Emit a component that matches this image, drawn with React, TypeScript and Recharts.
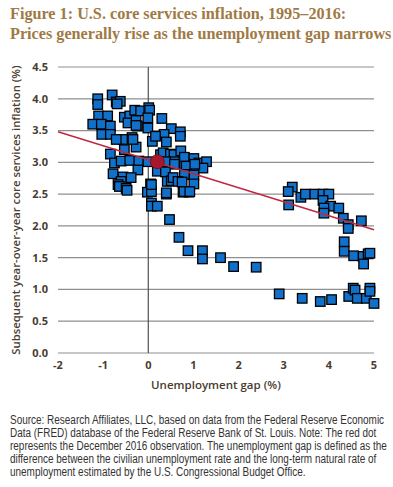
import React from 'react';
import { ScatterChart, Scatter, XAxis, YAxis, CartesianGrid, ReferenceLine } from 'recharts';

// unemployment gap (%) for each monthly observation
const gap = [
  -1.12, -1.12, -0.8, -0.71, -0.62, -0.69, -1.1, -0.9, -1.23, -1.04, -0.84, -1.03, -0.84,
  -0.53, -0.41, -0.45, -0.27, -0.3, -0.17, 0.01, 0.03, -0.01, -0.24, -0.01, -0.27,
  -0.56, -0.36, -0.71, -0.53, -0.27, -0.34, 0.09,
  -0.84, -0.75, -0.6, -0.41, -0.21, -0.01, -0.23,
  -0.78, -0.56, -0.38, -0.6, -0.67, -0.64, -0.49, -0.47,
  0.05, -0.02, 0.07, 0.07, 0.2,
  0.3, 0.51, 0.71, 0.71, 0.35, 0.16, 0.4,
  0.27, 0.33, 0.49, 0.57, 0.72, 0.8, 1.01, 1.12, 1.29, 1.21, 1.01, 0.8, 0.8, 0.58, 0.38, 0.58, 0.84, 1.03, 1.01,
  0.2, 0.38, 0.8, 0.42, 0.51, 0.55, 0.66, 0.75, 1.01,
  0.9, 0.77, 0.4, 0.79, 0.92, 0.07, 0.07, 0.4,
  0.47, 0.68, 0.88, 1.2, 1.2, 1.6, 1.89, 2.39,
  2.9, 3.41, 3.81, 4.06, 4.44, 4.54, 4.58, 4.63, 4.83, 4.91, 4.91, 5.0,
  3.19, 3.1, 3.11, 3.38, 3.48, 3.69, 3.87, 4.0, 3.87, 4.04, 3.89, 3.89, 4.22, 4.32, 4.43, 4.43, 4.72,
  4.34, 4.34, 4.55, 4.76, 4.87, 4.77, 4.91,
];

// subsequent year-over-year core services inflation (%)
const inflation = [
  4.0, 3.91, 4.06, 3.95, 3.96, 3.92, 3.73, 3.73, 3.6, 3.6, 3.57, 3.44, 3.44,
  3.71, 3.73, 3.62, 3.66, 3.82, 3.81, 3.86, 3.82, 3.7, 3.57, 3.54, 3.58,
  3.36, 3.39, 3.36, 3.2, 3.24, 3.36, 3.33,
  3.13, 2.99, 3.02, 3.03, 3.02, 3.01, 2.88,
  2.82, 2.77, 2.76, 2.7, 2.65, 2.62, 2.59, 2.56,
  2.66, 2.53, 2.36, 2.31, 2.31,
  3.69, 3.53, 3.48, 3.41, 3.44, 3.41, 3.32,
  3.12, 3.15, 3.13, 3.12, 3.18, 3.08, 3.06, 2.99, 3.01, 2.91, 2.86, 2.89, 2.94, 3.01, 3.01, 2.97, 2.94, 2.97, 2.8,
  2.86, 2.85, 2.81, 2.7, 2.71, 2.76, 2.7, 2.69, 2.66,
  2.53, 2.53, 2.5, 2.54, 2.54, 2.54, 2.65, 2.52,
  2.1, 1.82, 1.61, 1.61, 1.48, 1.5, 1.36, 1.35,
  0.93, 0.86, 0.81, 0.84, 0.89, 1.02, 0.99, 0.86, 0.86, 1.02, 0.97, 0.78,
  2.61, 2.54, 2.33, 2.45, 2.5, 2.5, 2.5, 2.5, 2.4, 2.31, 2.28, 2.2, 2.28, 2.12, 2.02, 1.96, 2.08,
  1.75, 1.6, 1.53, 1.52, 1.56, 1.4, 1.57,
];

// December 2016 observation
const latest = [{ x: 0.2, y: 3.01 }];

// fitted trend line end points
const trendX = [-2, 5];
const trendY = [3.48, 1.94];

const xTicks = [-2, -1, 0, 1, 2, 3, 4, 5];
const yTicks = [0, 0.5, 1, 1.5, 2, 2.5, 3, 3.5, 4, 4.5];

const sourceLines = [
  'Source: Research Affiliates, LLC, based on data from the Federal Reserve Economic',
  'Data (FRED) database of the Federal Reserve Bank of St. Louis. Note: The red dot',
  'represents the December 2016 observation. The unemployment gap is defined as the',
  'difference between the civilian unemployment rate and the long-term natural rate of',
  'unemployment estimated by the U.S. Congressional Budget Office.',
];

const points = gap.map((x, i) => ({ x, y: inflation[i] }));
const trend = trendX.map((x, i) => ({ x, y: trendY[i] }));

const Square = (props: any) => {
  const { cx, cy } = props;
  const s = 9.5;
  return <rect x={cx - s / 2} y={cy - s / 2} width={s} height={s} fill="#1170c9" stroke="#000" strokeWidth={1.3} />;
};

const Dot = (props: any) => {
  const { cx, cy } = props;
  return <circle cx={cx} cy={cy} r={7} fill="#a8172d" stroke="#7d0f20" strokeWidth={1} />;
};

const tickStyle = { fontFamily: 'Open Sans', fontSize: 11, fontWeight: 700, fill: '#4a3c30' };

export default function App() {
  return (
    <div style={{ position: 'absolute', left: 0, top: 0, width: 393, height: 487, background: '#fff', overflow: 'hidden' }}>
      <div
        style={{
          position: 'absolute',
          left: 10,
          top: 4,
          fontFamily: 'Liberation Serif',
          fontWeight: 700,
          fontSize: 16.2,
          lineHeight: '20px',
          color: '#9f7a45',
          whiteSpace: 'nowrap',
        }}
      >
        Figure 1: U.S. core services inflation, 1995–2016:
        <br />
        Prices generally rise as the unemployment gap narrows
      </div>
      <div style={{ position: 'absolute', left: 0, top: 0 }}>
        <ScatterChart width={393} height={400} margin={{ top: 67, right: 19, bottom: 17, left: 28 }}>
          <CartesianGrid vertical={false} stroke="#8f8f8f" strokeWidth={1.2} />
          <XAxis
            type="number"
            dataKey="x"
            domain={[-2, 5]}
            ticks={xTicks}
            axisLine={false}
            tickLine={false}
            tick={tickStyle}
            tickMargin={2}
            height={30}
            label={{
              value: 'Unemployment gap (%)',
              position: 'insideBottom',
              offset: -6,
              style: { fontFamily: 'Open Sans', fontSize: 11.5, fontWeight: 600, fill: '#4a3c30' },
            }}
          />
          <YAxis
            type="number"
            dataKey="y"
            domain={[0, 4.5]}
            ticks={yTicks}
            axisLine={false}
            tickLine={false}
            tick={tickStyle}
            tickFormatter={(v: number) => v.toFixed(1)}
            width={30}
            tickMargin={4}
            label={{
              value: 'Subsequent year-over-year core services inflation (%)',
              angle: -90,
              position: 'insideLeft',
              offset: -12,
              style: { textAnchor: 'middle', fontFamily: 'Open Sans', fontSize: 11.3, fontWeight: 600, fill: '#4a3c30' },
            }}
          />
          <ReferenceLine x={0} stroke="#505050" strokeWidth={1.2} />
          <Scatter data={points} shape={<Square />} isAnimationActive={false} />
          <Scatter
            data={trend}
            line={{ stroke: '#c0283f', strokeWidth: 1.5 }}
            shape={() => null}
            isAnimationActive={false}
          />
          <Scatter data={latest} shape={<Dot />} isAnimationActive={false} />
        </ScatterChart>
      </div>
      <div
        style={{
          position: 'absolute',
          left: 10,
          top: 414,
          fontFamily: 'Liberation Sans',
          fontSize: 12.3,
          lineHeight: '13px',
          color: '#333',
          whiteSpace: 'nowrap',
          transform: 'scaleX(0.81)',
          transformOrigin: 'left top',
        }}
      >
        {sourceLines.map((l) => (
          <div key={l}>{l}</div>
        ))}
      </div>
    </div>
  );
}
